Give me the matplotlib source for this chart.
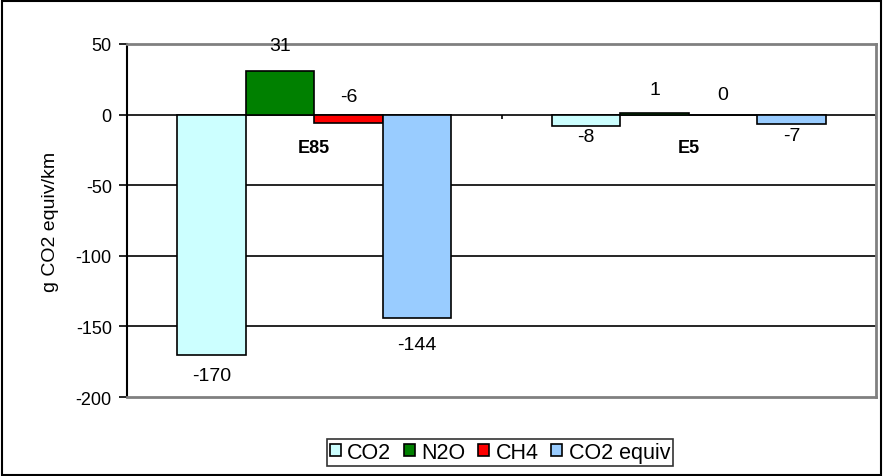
import numpy as np
import matplotlib
matplotlib.use("Agg")
import matplotlib.pyplot as plt
from matplotlib.patches import Rectangle

# data
fuels = ["E85", "E5"]
gases = ["CO2", "N2O", "CH4", "CO2 equiv"]
co2 = [-170, -8]
n2o = [31, 1]
ch4 = [-6, 0]
co2_equiv = [-144, -7]
colors = ["#CCFFFF", "#008000", "#FF0000", "#99CCFF"]

series = [co2, n2o, ch4, co2_equiv]

# label offsets in pixels (layout only), per gas and fuel
label_dy = [[-21, -11], [25, 24], [18, 20], [-27, -11]]

plt.rcParams['font.family'] = ['Liberation Sans', 'DejaVu Sans']
plt.rcParams['axes.unicode_minus'] = False

fig = plt.figure(figsize=(8.84, 4.77), dpi=100)
ax = fig.add_axes([0.1437, 0.1656, 0.8473, 0.7401])

x = np.arange(len(fuels))
w = 0.1827
for i, (vals, c, name) in enumerate(zip(series, colors, gases)):
    pos = x + (i - 1.5) * w
    ax.bar(pos, vals, w, color=c, edgecolor="black", linewidth=1.2, label=name, zorder=3)
    for j, v in enumerate(vals):
        base = v if (v > 0 or label_dy[i][j] < 0) else 0
        ax.annotate(str(v), (pos[j], base), xytext=(0, label_dy[i][j]),
                    textcoords="offset pixels", ha="center", va="center", fontsize=14)

ax.set_xlim(-0.5, 1.5)
ax.set_ylim(-200, 50)
ax.set_yticks(np.arange(-200, 51, 50))
ax.tick_params(axis="y", labelsize=13, length=6, width=1.2, direction="out", pad=5)
ax.set_xticks([])
for yv in [0, -50, -100, -150]:
    ax.axhline(yv, color="black", linewidth=1.2, zorder=2)
ax.vlines([-0.5, 0.5, 1.5], -3, 0, color="black", linewidth=1.2, zorder=2)

for j, f in enumerate(fuels):
    ax.annotate(f, (x[j], 0), xytext=(0, -33), textcoords="offset pixels",
                ha="center", va="center", fontsize=13, fontweight="bold")

ax.set_ylabel("g CO2 equiv/km", fontsize=14, labelpad=12)

for s in ["top", "right", "bottom"]:
    ax.spines[s].set_color("#808080")
    ax.spines[s].set_linewidth(2)
ax.spines["left"].set_color("black")
ax.spines["left"].set_linewidth(1.5)

leg = fig.legend(loc="center", bbox_to_anchor=(0.5656, 1 - 453.5 / 477), ncol=4,
                 fontsize=15.5, frameon=True, fancybox=False, handlelength=0.5,
                 handleheight=0.5, handletextpad=0.3, columnspacing=0.6,
                 borderpad=0.15, borderaxespad=0)
leg.get_frame().set_edgecolor("black")
leg.get_frame().set_linewidth(1.2)

fig.patches.append(Rectangle((0.002, 0.003), 0.995, 0.993, transform=fig.transFigure,
                             fill=False, edgecolor="black", linewidth=1.5))

fig.savefig("out.png", dpi=100)
